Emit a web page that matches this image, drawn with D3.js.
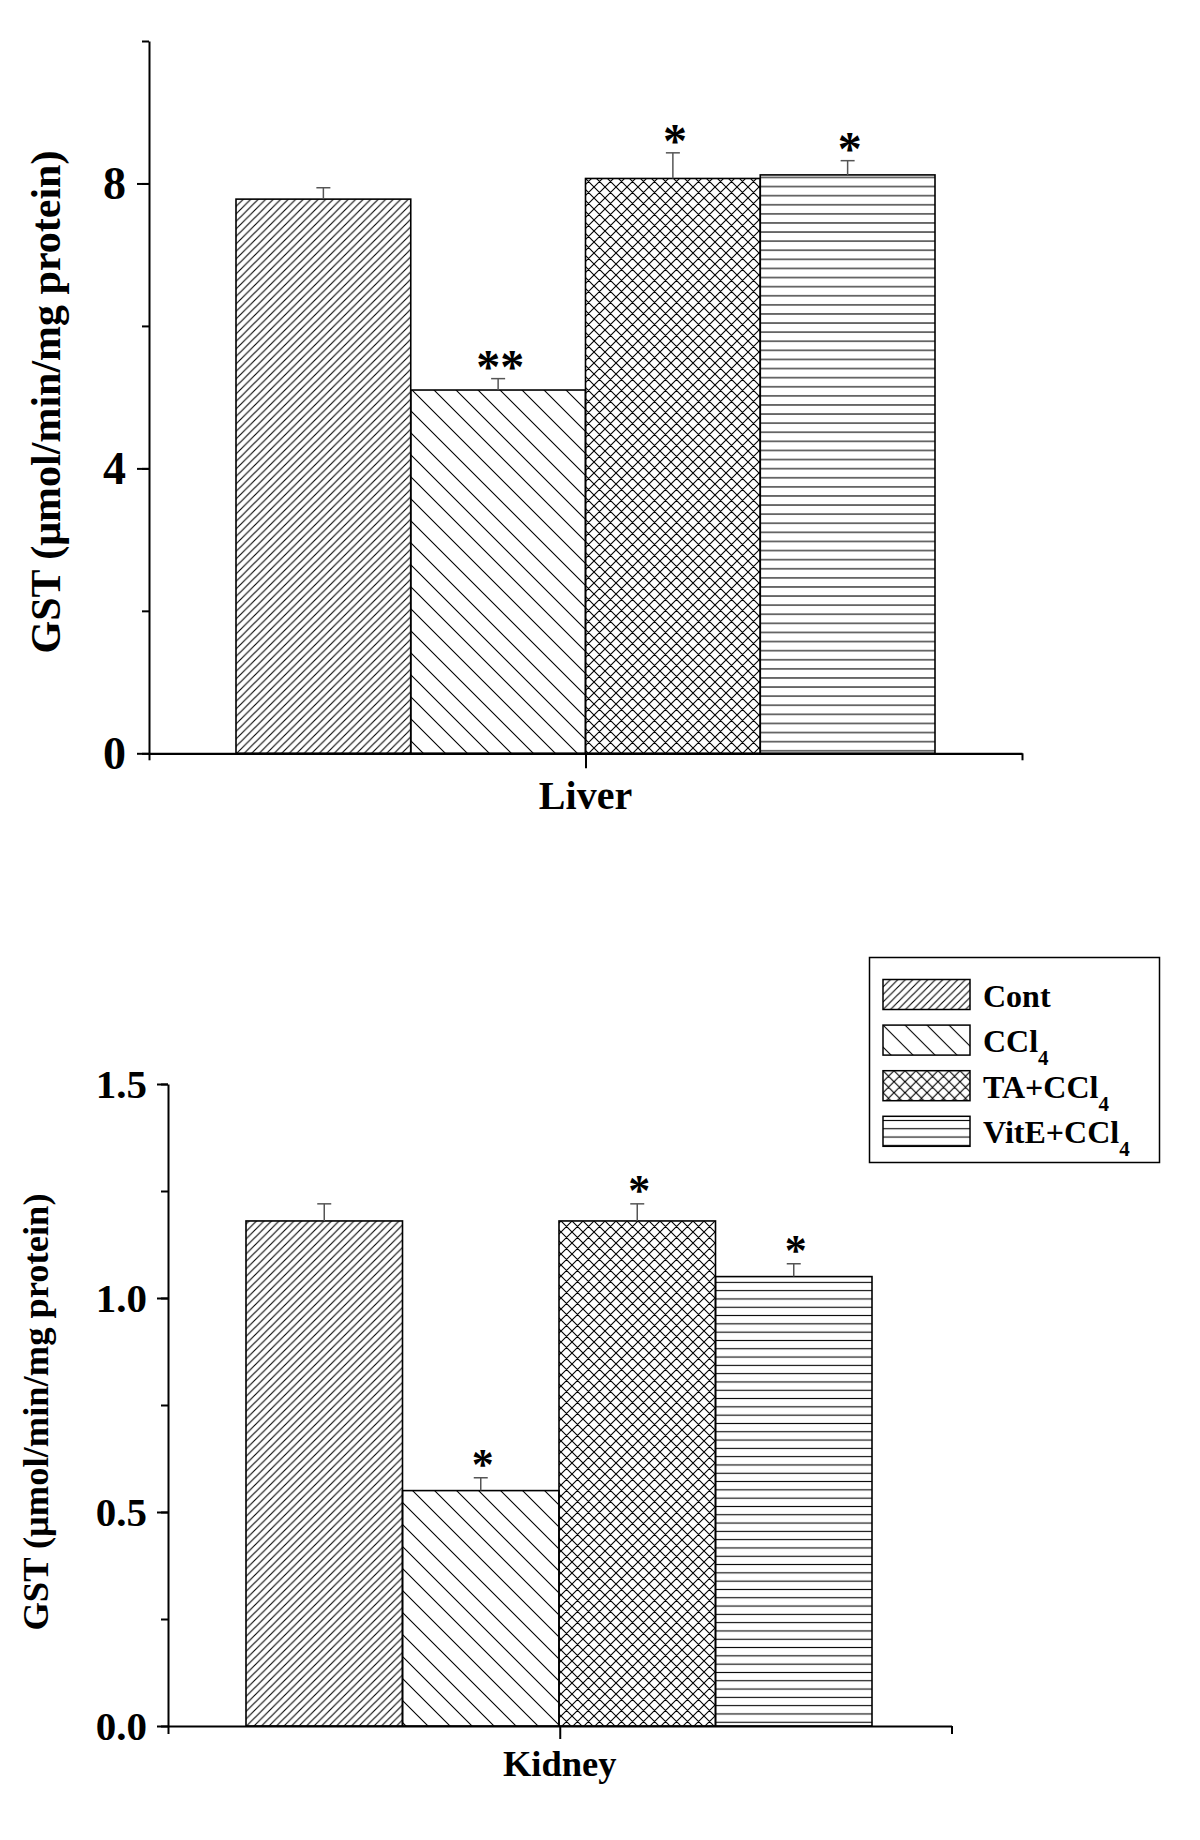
<!DOCTYPE html>
<html>
<head>
<meta charset="utf-8">
<script src="https://cdn.jsdelivr.net/npm/d3@7"></script>
<style>
  body { margin: 0; background: #fff; }
  svg text { font-family: "Liberation Serif", "Times New Roman", serif; font-weight: bold; fill: #000; }
</style>
</head>
<body>
<svg id="chart" width="1200" height="1840"></svg>
<script>
// groups shown in both panels
var groups = ["Cont", "CCl4", "TA+CCl4", "VitE+CCl4"];
var patternIds = ["pCont", "pCCl4", "pTA", "pVit"];

// liver GST values
var liverMeans = [7.78, 5.10, 8.07, 8.12];
var liverErr = [0.16, 0.16, 0.36, 0.20];
var liverStars = ["", "**", "*", "*"];
var liverTicks = [0, 2, 4, 6, 8, 10];
var liverLabels = [0, 4, 8];

// kidney GST values
var kidneyMeans = [1.18, 0.55, 1.18, 1.05];
var kidneyErr = [0.04, 0.03, 0.04, 0.03];
var kidneyStars = ["", "*", "*", "*"];
var kidneyTicks = [0, 0.25, 0.5, 0.75, 1.0, 1.25, 1.5];
var kidneyLabels = [0, 0.5, 1.0, 1.5];

var svg = d3.select("#chart");
svg.append("rect").attr("width", 1200).attr("height", 1840).attr("fill", "#fff");

// hatch patterns, one set per panel (line spacing differs a bit)
var defs = svg.append("defs");
function makePatterns(suffix, hSpacing) {
    var s1 = 7.5;
    var p1 = defs.append("pattern").attr("id", "pCont" + suffix)
        .attr("patternUnits", "userSpaceOnUse").attr("width", s1).attr("height", s1);
    p1.append("path")
        .attr("d", "M0," + s1 + "L" + s1 + ",0 M-1,1L1,-1 M" + (s1 - 1) + "," + (s1 + 1) + "L" + (s1 + 1) + "," + (s1 - 1))
        .attr("stroke", "#000").attr("stroke-width", 1.1);

    var s2 = 22;
    var p2 = defs.append("pattern").attr("id", "pCCl4" + suffix)
        .attr("patternUnits", "userSpaceOnUse").attr("width", s2).attr("height", s2);
    p2.append("path")
        .attr("d", "M0,0L" + s2 + "," + s2 + " M-1," + (s2 - 1) + "L1," + (s2 + 1) + " M" + (s2 - 1) + ",-1L" + (s2 + 1) + ",1")
        .attr("stroke", "#000").attr("stroke-width", 1.1);

    var s3 = 11;
    var p3 = defs.append("pattern").attr("id", "pTA" + suffix)
        .attr("patternUnits", "userSpaceOnUse").attr("width", s3).attr("height", s3);
    p3.append("path")
        .attr("d", "M0,0L" + s3 + "," + s3 + " M0," + s3 + "L" + s3 + ",0" +
            " M-1,1L1,-1 M" + (s3 - 1) + "," + (s3 + 1) + "L" + (s3 + 1) + "," + (s3 - 1) +
            " M-1," + (s3 - 1) + "L1," + (s3 + 1) + " M" + (s3 - 1) + ",-1L" + (s3 + 1) + ",1")
        .attr("stroke", "#000").attr("stroke-width", 1.1);

    var p4 = defs.append("pattern").attr("id", "pVit" + suffix)
        .attr("patternUnits", "userSpaceOnUse").attr("width", 10).attr("height", hSpacing);
    p4.append("line").attr("x1", 0).attr("x2", 10).attr("y1", hSpacing / 2).attr("y2", hSpacing / 2)
        .attr("stroke", "#000").attr("stroke-width", 1.1);
}
makePatterns("A", 9.1);
makePatterns("B", 8.3);

function drawPanel(cfg) {
    var g = svg.append("g");

    var y = d3.scaleLinear().domain(cfg.domain).range([cfg.y0, cfg.yTop]);
    var xAxisScale = d3.scaleLinear().domain([0, 1]).range([cfg.left, cfg.right]);
    var xBand = d3.scaleBand().domain(groups).range([cfg.barL, cfg.barR]).padding(0);

    // bars
    g.selectAll(".bar").data(cfg.means).enter().append("rect")
        .attr("x", function(d, i) { return xBand(groups[i]); })
        .attr("y", function(d) { return y(d); })
        .attr("width", xBand.bandwidth())
        .attr("height", function(d) { return y(0) - y(d); })
        .attr("fill", function(d, i) { return "url(#" + patternIds[i] + cfg.suffix + ")"; })
        .attr("stroke", "#000")
        .attr("stroke-width", 1.6);

    // error bars (upper only)
    var eb = g.selectAll(".err").data(cfg.means).enter().append("g");
    eb.append("line")
        .attr("x1", function(d, i) { return xBand(groups[i]) + xBand.bandwidth() / 2; })
        .attr("x2", function(d, i) { return xBand(groups[i]) + xBand.bandwidth() / 2; })
        .attr("y1", function(d) { return y(d); })
        .attr("y2", function(d, i) { return y(d + cfg.err[i]); })
        .attr("stroke", "#555").attr("stroke-width", 1.5);
    eb.append("line")
        .attr("x1", function(d, i) { return xBand(groups[i]) + xBand.bandwidth() / 2 - 7; })
        .attr("x2", function(d, i) { return xBand(groups[i]) + xBand.bandwidth() / 2 + 7; })
        .attr("y1", function(d, i) { return y(d + cfg.err[i]); })
        .attr("y2", function(d, i) { return y(d + cfg.err[i]); })
        .attr("stroke", "#555").attr("stroke-width", 1.5);

    // significance stars
    g.selectAll(".star").data(cfg.stars).enter().append("text")
        .attr("x", function(d, i) { return xBand(groups[i]) + xBand.bandwidth() / 2 + 2; })
        .attr("y", function(d, i) { return y(cfg.means[i] + cfg.err[i]) + cfg.starOffset; })
        .attr("text-anchor", "middle")
        .style("font-size", cfg.starSize + "px")
        .text(function(d) { return d; });

    // y axis: minor ticks, then labelled major ticks
    g.append("g").attr("transform", "translate(" + cfg.left + ",0)")
        .call(d3.axisLeft(y).tickValues(cfg.ticks).tickSize(7).tickSizeOuter(0).tickFormat(""))
        .call(function(a) { a.select(".domain").remove(); });
    var yAx = g.append("g").attr("transform", "translate(" + cfg.left + ",0)")
        .call(d3.axisLeft(y).tickValues(cfg.labels).tickSize(cfg.majorTick).tickSizeOuter(0)
            .tickPadding(cfg.tickPad).tickFormat(cfg.fmt));
    g.selectAll(".tick line").attr("stroke", "#000").attr("stroke-width", 2);
    yAx.select(".domain").attr("stroke", "#000").attr("stroke-width", 2);
    yAx.selectAll("text")
        .style("font-family", "'Liberation Serif', 'Times New Roman', serif")
        .style("font-weight", "bold")
        .style("font-size", cfg.tickFont + "px")
        .attr("fill", "#000");

    // x axis: ends + centre tick
    var xAx = g.append("g").attr("transform", "translate(0," + cfg.y0 + ")")
        .call(d3.axisBottom(xAxisScale).tickValues([0, 1]).tickSize(cfg.xEndTick).tickSizeOuter(0).tickFormat(""));
    g.append("g").attr("transform", "translate(0," + cfg.y0 + ")")
        .call(d3.axisBottom(xAxisScale).tickValues([0.5]).tickSize(cfg.xMidTick).tickFormat(""))
        .call(function(a) { a.select(".domain").remove(); });
    xAx.select(".domain").attr("stroke", "#000").attr("stroke-width", 2.2);
    g.selectAll(".tick line").attr("stroke", "#000").attr("stroke-width", 2);

    // category label
    g.append("text")
        .attr("x", xAxisScale(0.5))
        .attr("y", cfg.catY)
        .attr("text-anchor", "middle")
        .style("font-size", cfg.catFont + "px")
        .text(cfg.category);

    // y title
    g.append("text")
        .attr("transform", "translate(" + cfg.titleX + "," + cfg.titleY + ") rotate(-90)")
        .attr("text-anchor", "middle")
        .style("font-size", cfg.titleFont + "px")
        .text("GST (\u03bcmol/min/mg protein)");
}

drawPanel({
    suffix: "A", means: liverMeans, err: liverErr, stars: liverStars,
    ticks: liverTicks, labels: liverLabels, domain: [0, 10], fmt: d3.format("d"),
    y0: 753.3, yTop: 41, left: 149, right: 1022, barL: 236, barR: 935,
    majorTick: 12, tickPad: 11, tickFont: 46, xEndTick: 7, xMidTick: 15,
    starSize: 48, starOffset: 4,
    category: "Liver", catY: 809, catFont: 40,
    titleX: 60, titleY: 402, titleFont: 42
});

drawPanel({
    suffix: "B", means: kidneyMeans, err: kidneyErr, stars: kidneyStars,
    ticks: kidneyTicks, labels: kidneyLabels, domain: [0, 1.5], fmt: d3.format(".1f"),
    y0: 1726, yTop: 1084, left: 168, right: 951.5, barL: 246, barR: 872,
    majorTick: 11, tickPad: 10, tickFont: 41, xEndTick: 8, xMidTick: 13,
    starSize: 44, starOffset: 1,
    category: "Kidney", catY: 1776, catFont: 36.5,
    titleX: 48, titleY: 1412, titleFont: 36.5
});

// legend
var leg = svg.append("g");
leg.append("rect")
    .attr("x", 869.5).attr("y", 957.5).attr("width", 290).attr("height", 205)
    .attr("fill", "#fff").attr("stroke", "#000").attr("stroke-width", 1.5);
var legRows = leg.selectAll(".row").data(groups).enter().append("g")
    .attr("transform", function(d, i) { return "translate(883," + (979.5 + i * 45.6) + ")"; });
legRows.append("rect")
    .attr("width", 87).attr("height", 30)
    .attr("fill", function(d, i) { return "url(#" + patternIds[i] + "B)"; })
    .attr("stroke", "#000").attr("stroke-width", 1.5);
legRows.append("text")
    .attr("x", 100).attr("y", 27)
    .style("font-size", "32px")
    .each(function(d) {
        var t = d3.select(this);
        if (d.slice(-1) === "4") {
            t.append("tspan").text(d.slice(0, -1));
            t.append("tspan").attr("dy", 13).style("font-size", "21px").text("4");
        } else {
            t.text(d);
        }
    });
</script>
</body>
</html>
